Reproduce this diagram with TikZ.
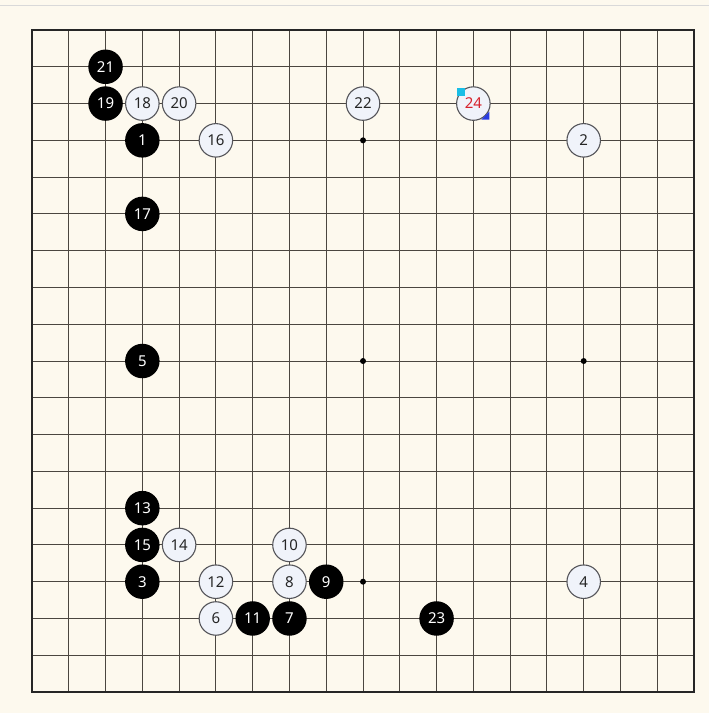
\documentclass[tikz,border=0pt]{standalone}
\usepackage{fontspec}
\setmainfont{Noto Sans}
\usetikzlibrary{positioning}
\definecolor{boardbg}{RGB}{253,249,238}
\definecolor{gridcol}{RGB}{75,70,64}
\definecolor{whitestone}{RGB}{240,243,250}
\definecolor{rimcol}{RGB}{85,85,90}
\definecolor{lastred}{RGB}{215,35,45}
\definecolor{markcyan}{RGB}{25,190,230}
\definecolor{markblue}{RGB}{40,60,225}
\tikzset{
  bstone/.style={circle, fill=black, text=white, minimum size=34.5pt, inner sep=0pt, font=\fontsize{15}{15}\selectfont},
  wstone/.style={circle, fill=whitestone, draw=rimcol, line width=1.1pt, text=black!85, minimum size=33.5pt, inner sep=0pt, font=\fontsize{15}{15}\selectfont},
}
\def\cell{36.78}
\begin{document}
\begin{tikzpicture}[x=1pt,y=-1pt]
        % Page and board
        \fill[boardbg] (0,0) rectangle (709,713);
        \useasboundingbox (0,0) rectangle (709,713);
        \draw[black!15, line width=1pt] (0,5) -- (709,5);
        % Grid lines
        \foreach \i in {1,...,17} {
          \draw[gridcol, line width=1pt] ({32+\i*\cell},30) -- ({32+\i*\cell},692);
          \draw[gridcol, line width=1pt] (32,{30+\i*\cell}) -- (694,{30+\i*\cell});
        }
        \draw[black!85, line width=1.8pt] (32,30) rectangle (694,692);
        % Star points
        \foreach \c/\r in {9/3, 9/9, 15/9, 9/15}
          \fill (({32+\c*\cell},{30+\r*\cell}) circle (3pt);
        % Black stones
        \foreach \c/\r/\n in {3/3/1, 3/15/3, 3/9/5, 7/16/7, 8/15/9, 6/16/11, 3/13/13, 3/14/15, 3/5/17, 2/2/19, 2/1/21, 11/16/23}
          \node[bstone] (m\n) at ({32+\c*\cell},{30+\r*\cell}) {\n};
        % White stones
        \foreach \c/\r/\n in {15/3/2, 15/15/4, 5/16/6, 7/15/8, 7/14/10, 5/15/12, 4/14/14, 5/3/16, 3/2/18, 4/2/20, 9/2/22}
          \node[wstone] (m\n) at ({32+\c*\cell},{30+\r*\cell}) {\n};
        % Last move
        \node[wstone, text=lastred] (m24) at ({32+12*\cell},{30+2*\cell}) {24};
        \fill[markcyan] ([shift={(-16,-16)}]m24.center) rectangle ++(8,8);
        \fill[markblue] ([shift={(16,8)}]m24.center) -- ++(0,8) -- ++(-8,0) -- cycle;
      \end{tikzpicture}
\end{document}
